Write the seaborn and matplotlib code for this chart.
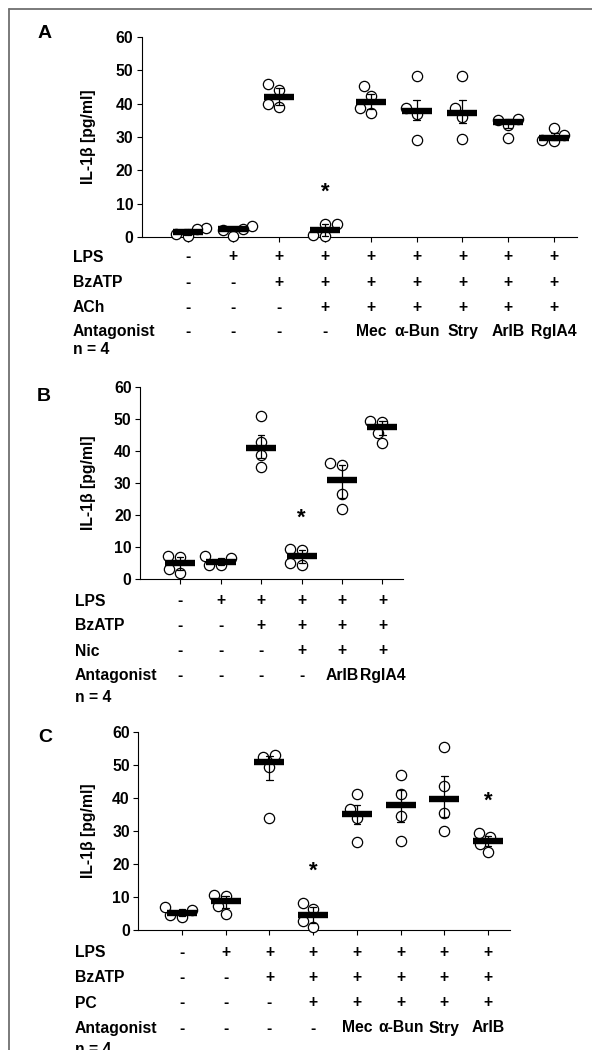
import numpy as np
import pandas as pd
import matplotlib
matplotlib.use("Agg")
import matplotlib.pyplot as plt
import matplotlib.transforms as mtransforms
from matplotlib.lines import Line2D
import seaborn as sns

sns.set_theme(style="ticks")
plt.rcParams.update({
    "axes.edgecolor": "black",
    "axes.labelcolor": "black",
    "text.color": "black",
    "xtick.color": "black",
    "ytick.color": "black",
    "font.weight": "bold",
})
plt.rcParams["font.family"] = ["Liberation Sans", "DejaVu Sans"]

# ---------------- data ----------------
# IL-1β [pg/ml], one list of n = 4 replicates per condition
a_il1b = [
    [2.7, 2.5, 0.3, 0.8],
    [3.2, 2.4, 2.2, 0.2],
    [45.8, 44.2, 40.0, 39.0],
    [3.9, 3.9, 0.2, 0.5],
    [45.2, 42.3, 38.7, 37.3],
    [48.4, 38.7, 37.0, 29.2],
    [48.2, 38.6, 35.9, 29.3],
    [35.2, 35.5, 33.5, 29.8],
    [30.5, 28.7, 29.2, 32.8],
]
a_lps = ["-", "+", "+", "+", "+", "+", "+", "+", "+"]
a_bzatp = ["-", "-", "+", "+", "+", "+", "+", "+", "+"]
a_ach = ["-", "-", "-", "+", "+", "+", "+", "+", "+"]
a_antagonist = ["-", "-", "-", "-", "Mec", "α-Bun", "Stry", "ArIB", "RgIA4"]
a_significant = [3]

b_il1b = [
    [7.4, 7.0, 3.3, 2.0],
    [7.4, 6.5, 4.5, 4.4],
    [51.0, 42.9, 38.6, 34.9],
    [9.4, 9.1, 5.2, 4.5],
    [36.1, 35.6, 26.5, 21.8],
    [49.4, 49.1, 45.7, 42.4],
]
b_lps = ["-", "+", "+", "+", "+", "+"]
b_bzatp = ["-", "-", "+", "+", "+", "+"]
b_nic = ["-", "-", "-", "+", "+", "+"]
b_antagonist = ["-", "-", "-", "-", "ArIB", "RgIA4"]
b_significant = [3]

c_il1b = [
    [4.5, 6.0, 6.9, 4.0],
    [10.2, 10.6, 7.3, 4.7],
    [52.4, 53.1, 49.4, 33.8],
    [8.3, 6.4, 2.7, 0.8],
    [41.3, 36.6, 33.8, 26.7],
    [46.9, 41.0, 34.5, 26.9],
    [55.4, 43.5, 35.5, 29.9],
    [29.5, 28.0, 26.0, 23.5],
]
c_lps = ["-", "+", "+", "+", "+", "+", "+", "+"]
c_bzatp = ["-", "-", "+", "+", "+", "+", "+", "+"]
c_pc = ["-", "-", "-", "+", "+", "+", "+", "+"]
c_antagonist = ["-", "-", "-", "-", "Mec", "α-Bun", "Stry", "ArIB"]
c_significant = [3, 7]

n_label = "n = 4"
y_label = "IL-1β [pg/ml]"
y_ticks = [0, 10, 20, 30, 40, 50, 60]

# ---------------- layout (pixels) ----------------
W, H = 592, 1050
fig = plt.figure(figsize=(W / 100, H / 100), dpi=100)
FS = 11.3


def px_rect(left, top, right, bottom):
    return [left / W, 1 - bottom / H, (right - left) / W, (bottom - top) / H]


def draw_panel(rect, values, significant, letter, letter_xy, rows, row_y, label_x):
    ax = fig.add_axes(px_rect(*rect))
    n = len(values)
    order = [str(i) for i in range(n)]
    df = pd.DataFrame({
        "group": [str(i) for i, v in enumerate(values) for _ in v],
        "il1b": [x for v in values for x in v],
    })

    sns.swarmplot(data=df, x="group", y="il1b", order=order, ax=ax,
                  color="white", edgecolor="black", linewidth=0.9,
                  size=7.4, zorder=3)
    sns.pointplot(data=df, x="group", y="il1b", order=order, ax=ax,
                  estimator="median", errorbar=("pi", 50),
                  color="black", marker="_", markersize=22,
                  markeredgewidth=4.6, linestyle="none",
                  capsize=0.15, err_kws={"linewidth": 0.9}, zorder=5)

    for coll in ax.collections:
        coll.set_clip_on(False)
    for line in ax.lines:
        line.set_clip_on(False)

    # significance marks above the replicates
    for g in significant:
        ax.annotate("*", xy=(g, max(values[g]) + 11.5), xytext=(0, -8.5),
                    textcoords="offset points", ha="center", va="baseline",
                    fontsize=16, fontweight="bold")

    ax.set_xlim(-1, n - 0.5)
    ax.set_ylim(0, 60)
    ax.set_yticks(y_ticks)
    ax.set_xticks(range(n))
    ax.set_xticklabels([])
    ax.set_xlabel("")
    ax.set_ylabel(y_label, fontsize=FS, fontweight="bold")
    left, top, right, bottom = rect
    ax.yaxis.set_label_coords((96 - left) / (right - left), 0.5)
    ax.tick_params(axis="both", direction="out", length=3.6, width=0.8,
                   pad=2.5, labelsize=FS)
    sns.despine(ax=ax)
    for sp in ("left", "bottom"):
        ax.spines[sp].set_linewidth(0.8)

    fig.text(letter_xy[0] / W, 1 - letter_xy[1] / H, letter, fontsize=14,
             fontweight="bold", ha="center", va="center")

    # treatment table under the x axis
    trans = mtransforms.blended_transform_factory(ax.transData, fig.transFigure)
    for (name, entries), yc in zip(rows, row_y):
        yb = 1 - (yc + 5.5) / H
        fig.text(label_x / W, yb, name, fontsize=FS, fontweight="bold",
                 ha="left", va="baseline")
        for i, e in enumerate(entries):
            ax.text(i, yb, e, transform=trans, fontsize=FS,
                    fontweight="bold", ha="center", va="baseline",
                    clip_on=False)
    return ax


draw_panel((141.7, 37, 577, 237), a_il1b, a_significant, "A", (45, 33),
           [("LPS", a_lps), ("BzATP", a_bzatp), ("ACh", a_ach),
            ("Antagonist", a_antagonist), (n_label, [])],
           [256, 281.7, 306.7, 330.5, 348], 73)

draw_panel((140, 386.7, 402.7, 579.3), b_il1b, b_significant, "B", (44, 396),
           [("LPS", b_lps), ("BzATP", b_bzatp), ("Nic", b_nic),
            ("Antagonist", b_antagonist), (n_label, [])],
           [600, 624.3, 650, 674.3, 696.7], 75)

draw_panel((138.3, 731.7, 510, 930), c_il1b, c_significant, "C", (45, 738),
           [("LPS", c_lps), ("BzATP", c_bzatp), ("PC", c_pc),
            ("Antagonist", c_antagonist), (n_label, [])],
           [951.7, 976.7, 1002, 1027, 1049], 75)

# outer frame (top and left edges)
frame_kw = dict(color="#6f6f6f", linewidth=1.3, transform=fig.transFigure)
fig.add_artist(Line2D([8.5 / W, 1], [1 - 8.5 / H, 1 - 8.5 / H], **frame_kw))
fig.add_artist(Line2D([8.5 / W, 8.5 / W], [0, 1 - 8.5 / H], **frame_kw))

fig.savefig("out.png", dpi=100)
